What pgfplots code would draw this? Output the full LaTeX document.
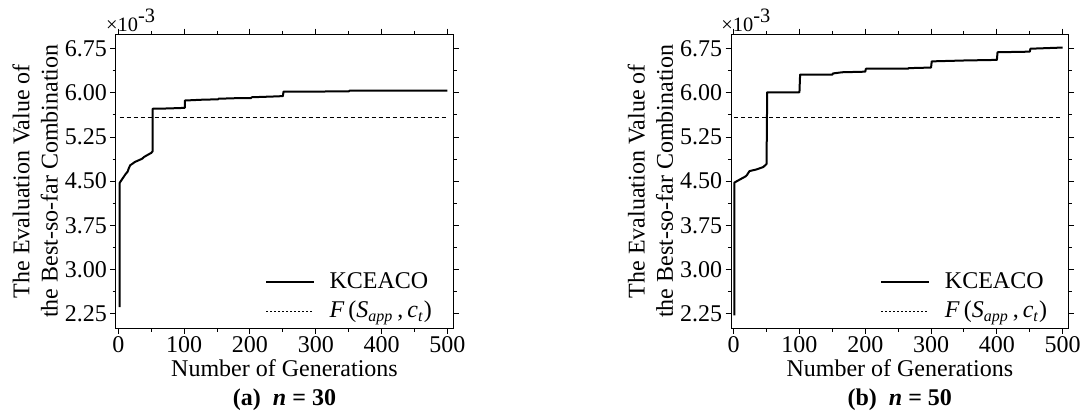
\documentclass[border=0pt]{standalone}
\usepackage{fontspec}
\setmainfont{Liberation Serif}
\usepackage{pgfplots}
\pgfplotsset{compat=1.18}

\pgfplotsset{
  kstyle/.style={
    scale only axis, width=168.8pt, height=147.15pt, anchor=south west,
    xmin=-4, xmax=509, ymin=2, ymax=7,
    xtick={0,100,...,500}, minor x tick num=1,
    ytick={2.25,3,3.75,4.5,5.25,6,6.75},
    yticklabels={2.25,3.00,3.75,4.50,5.25,6.00,6.75},
    minor y tick num=1,
    tick align=outside, major tick length=2.7pt, minor tick length=1.6pt,
    every tick/.style={black, line width=0.5pt},
    axis line style={line width=0.5pt},
    tick label style={font=\fontsize{12}{14}\selectfont},
    /pgf/number format/assume math mode=true,
    xticklabel style={inner sep=1pt},
    yticklabel style={inner sep=1.5pt},
    xlabel={Number of Generations},
    every axis x label/.style={at={(axis description cs:0.5,0)}, anchor=base, yshift=-24pt,
      font=\fontsize{12}{14}\selectfont},
    ylabel={The Evaluation Value of\\the Best-so-far Combination},
    every axis y label/.style={at={(axis description cs:0,0.5)}, xshift=-40.25pt, rotate=90,
      anchor=center, align=center, font=\fontsize{12}{14.1}\selectfont},
    legend style={at={(axis description cs:1,0)}, anchor=south east, xshift=-9pt, yshift=2pt,
      draw=none, fill=none, inner sep=0pt, row sep=2pt,
      font=\fontsize{12}{14}\selectfont,
      nodes={inner sep=1.5pt},
      /tikz/every odd column/.append style={column sep=6pt}},
    legend cell align=left,
    legend image code/.code={\draw[##1] (0pt,0pt) -- (23.8pt,0pt);},
  },
  curve/.style={black, line width=1pt, line join=round},
  ref/.style={black, line width=0.5pt, dash pattern=on 2pt off 1.5pt},
}

\pgfplotstableread{
x y
2 2.36
2 4.47
5 4.52
8 4.57
11 4.62
14 4.66
16 4.72
18 4.77
22 4.80
25 4.825
30 4.85
33 4.865
36 4.88
39 4.91
42 4.93
46 4.955
50 4.98
52 5.006
52 5.73
75 5.735
101 5.745
101 5.87
130 5.885
152 5.89
152 5.90
180 5.91
202 5.91
202 5.925
240 5.94
250 5.945
251 6.02
350 6.025
352 6.04
500 6.04
}\dataA

\pgfplotstableread{
x y
1 2.22
1 4.475
9 4.525
18 4.58
20 4.60
24 4.67
35 4.70
45 4.74
50 4.79
51 6.01
100 6.01
101 6.31
150 6.31
151 6.33
165 6.35
200 6.36
201 6.41
265 6.41
266 6.42
300 6.43
301 6.535
350 6.55
400 6.56
401 6.69
450 6.70
451 6.75
500 6.77
}\dataB

\begin{document}
\begin{tikzpicture}
\path[use as bounding box] (0,0) rectangle (540.5pt,207pt);

\begin{axis}[kstyle, name=A, at={(57.85pt,42.85pt)}]
\addplot[curve] table[x=x,y=y] {\dataA};
\addlegendentry{KCEACO}
\addplot[ref, forget plot] coordinates {(2,5.589) (500,5.589)};
\addlegendimage{black, line width=0.4pt, dash pattern=on 1pt off 1pt}
\addlegendentry{\textit{F}\,(\textit{S}\textsubscript{\textit{app}}\,,\,\textit{c}\textsubscript{\textit{t}})}
\end{axis}
\node[anchor=base west, inner sep=0pt, font=\fontsize{10.2}{11}\selectfont] at ([xshift=-5pt, yshift=1.2pt]A.north west) {×10\raisebox{4.5pt}{-3}};
\node[font=\bfseries\fontsize{12}{14}\selectfont] at ([yshift=-35.8pt]A.south) {(a)\ \ \textit{n} = 30};

\begin{axis}[kstyle, name=B, at={(365.5pt,42.85pt)}]
\addplot[curve] table[x=x,y=y] {\dataB};
\addlegendentry{KCEACO}
\addplot[ref, forget plot] coordinates {(1,5.589) (497,5.589)};
\addlegendimage{black, line width=0.4pt, dash pattern=on 1pt off 1pt}
\addlegendentry{\textit{F}\,(\textit{S}\textsubscript{\textit{app}}\,,\,\textit{c}\textsubscript{\textit{t}})}
\end{axis}
\node[anchor=base west, inner sep=0pt, font=\fontsize{10.2}{11}\selectfont] at ([xshift=-5pt, yshift=1.2pt]B.north west) {×10\raisebox{4.5pt}{-3}};
\node[font=\bfseries\fontsize{12}{14}\selectfont] at ([yshift=-35.8pt]B.south) {(b)\ \ \textit{n} = 50};
\end{tikzpicture}
\end{document}
